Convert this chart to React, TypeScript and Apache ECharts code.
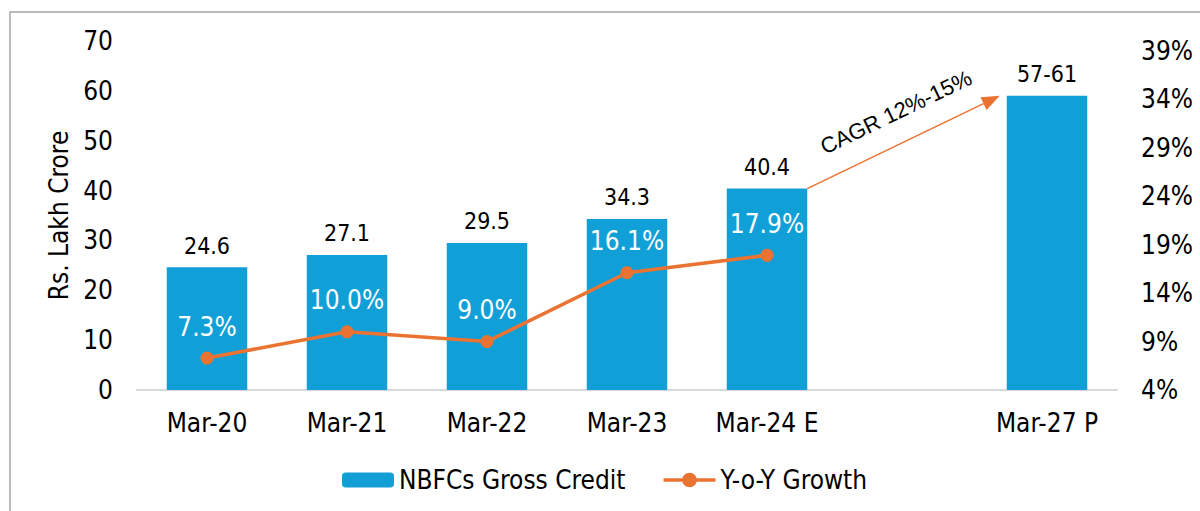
import React, { useEffect, useRef } from "react";
import * as echarts from "echarts";

const categories = ["Mar-20", "Mar-21", "Mar-22", "Mar-23", "Mar-24 E", "", "Mar-27 P"];
const creditValues = [24.6, 27.1, 29.5, 34.3, 40.4, null, 59];
const creditLabels = ["24.6", "27.1", "29.5", "34.3", "40.4", "", "57-61"];
const growthValues = [7.3, 10.0, 9.0, 16.1, 17.9, null, null];
const leftAxis = { min: 0, max: 70, interval: 10 };
const rightAxis = { min: 4, max: 40, interval: 5 };
const seriesNames = ["NBFCs Gross Credit", "Y-o-Y Growth"];
const cagrText = "CAGR 12%-15%";
const cagrFrom = 4;
const cagrTo = 6;

const FONT = "'DejaVu Sans Condensed', 'DejaVu Sans', sans-serif";
const BLUE = "#119FD7";
const ORANGE = "#EB7332";
const BAR_RATIO = 0.575;
const LINE_ICON =
  "path://M0,5.8 L53,5.8 L53,9.2 L0,9.2 Z M19,7.5 A7.5,7.5 0 1 1 34,7.5 A7.5,7.5 0 1 1 19,7.5 Z";

export default function App() {
  const ref = useRef<HTMLDivElement>(null);
  useEffect(() => {
    document.body.style.margin = "0";
    const chart = echarts.init(ref.current!, null, { renderer: "svg" });
    chart.setOption({
      animation: false,
      textStyle: { fontFamily: FONT },
      grid: { left: 137, right: 83, top: 41, bottom: 121, containLabel: false },
      legend: {
        left: 337,
        top: 462,
        itemWidth: 52,
        itemHeight: 15,
        itemGap: 38,
        textStyle: { fontFamily: FONT, fontSize: 26, color: "#000" },
        data: [
          { name: seriesNames[0] },
          { name: seriesNames[1], icon: LINE_ICON, itemStyle: { color: ORANGE } },
        ],
      },
      xAxis: {
        type: "category",
        data: categories,
        axisLine: { lineStyle: { color: "#D9D9D9", width: 2 } },
        axisTick: { show: false },
        axisLabel: { fontFamily: FONT, fontSize: 26, color: "#000", margin: 20, interval: 0 },
      },
      yAxis: [
        {
          type: "value",
          ...leftAxis,
          name: "Rs. Lakh Crore",
          nameLocation: "middle",
          nameGap: 64,
          nameTextStyle: { fontFamily: FONT, fontSize: 26, color: "#000" },
          axisLine: { show: false },
          axisTick: { show: false },
          splitLine: { show: false },
          axisLabel: { fontFamily: FONT, fontSize: 26, color: "#000", margin: 24 },
        },
        {
          type: "value",
          ...rightAxis,
          position: "right",
          axisLine: { show: false },
          axisTick: { show: false },
          splitLine: { show: false },
          axisLabel: {
            fontFamily: FONT,
            fontSize: 26,
            color: "#000",
            margin: 24,
            showMaxLabel: false,
            formatter: "{value}%",
          },
        },
      ],
      series: [
        {
          name: seriesNames[0],
          type: "bar",
          data: creditValues.map((v) => (v == null ? "-" : v)),
          barWidth: BAR_RATIO * 100 + "%",
          itemStyle: { color: BLUE },
          label: {
            show: true,
            position: "top",
            distance: 10,
            fontFamily: FONT,
            fontSize: 23,
            color: "#000",
            formatter: (p: any) => creditLabels[p.dataIndex],
          },
          z: 2,
        },
        {
          name: seriesNames[1],
          type: "line",
          yAxisIndex: 1,
          data: growthValues.map((v) => (v == null ? "-" : v)),
          symbol: "circle",
          symbolSize: 13,
          lineStyle: { color: ORANGE, width: 3.5 },
          itemStyle: { color: ORANGE },
          label: {
            show: true,
            position: "top",
            distance: 12,
            fontFamily: FONT,
            fontSize: 26,
            color: "#fff",
            formatter: (p: any) => Number(p.value).toFixed(1) + "%",
          },
          z: 3,
        },
      ],
    });

    const toPx = (i: number, v: number) =>
      chart.convertToPixel({ xAxisIndex: 0, yAxisIndex: 0 }, [i, v]) as number[];
    const band =
      (chart.convertToPixel({ xAxisIndex: 0 }, 1) as number) -
      (chart.convertToPixel({ xAxisIndex: 0 }, 0) as number);
    const half = (band * BAR_RATIO) / 2;
    const p1 = toPx(cagrFrom, creditValues[cagrFrom] as number);
    const p2 = toPx(cagrTo, creditValues[cagrTo] as number);
    const sx = p1[0] + half;
    const sy = p1[1];
    const ex = p2[0] - half - 7;
    const ey = p2[1];
    const len = Math.hypot(ex - sx, ey - sy);
    const dx = (ex - sx) / len;
    const dy = (ey - sy) / len;
    const headL = 18;
    const headW = 7;
    const bx = ex - dx * headL;
    const by = ey - dy * headL;
    const nx = -dy;
    const ny = dx;
    const angle = Math.atan2(sy - ey, ex - sx);
    const mx = (sx + ex) / 2 + dy * 31;
    const my = (sy + ey) / 2 - dx * 31;

    chart.setOption({
      graphic: [
        {
          type: "rect",
          shape: { x: 10, y: 12, width: 1300, height: 600 },
          style: { fill: "none", stroke: "#A6A6A6", lineWidth: 1.5 },
          silent: true,
        },
        {
          type: "line",
          shape: { x1: sx, y1: sy, x2: bx, y2: by },
          style: { stroke: ORANGE, lineWidth: 1.5 },
          silent: true,
        },
        {
          type: "polygon",
          shape: {
            points: [
              [ex, ey],
              [bx + nx * headW, by + ny * headW],
              [bx - nx * headW, by - ny * headW],
            ],
          },
          style: { fill: ORANGE },
          silent: true,
        },
        {
          type: "text",
          x: mx + 6,
          y: my - 2,
          rotation: angle,
          style: {
            text: cagrText,
            fontFamily: "'Liberation Sans', Arial, sans-serif",
            fontSize: 22,
            fill: "#000",
            align: "center",
            verticalAlign: "middle",
            textAlign: "center",
            textVerticalAlign: "middle",
          },
          silent: true,
        },
      ],
    });

    return () => chart.dispose();
  }, []);
  return <div ref={ref} style={{ width: 1200, height: 511 }} />;
}
